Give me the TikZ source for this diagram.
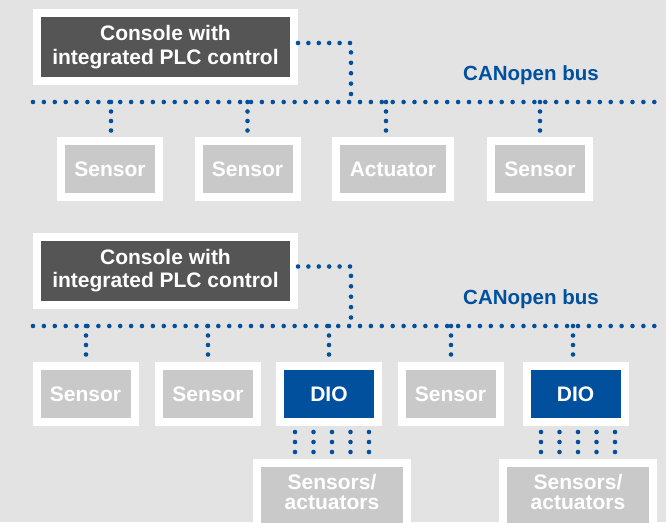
\documentclass[tikz,border=0pt]{standalone}
\usepackage{fontspec}
\setmainfont{Liberation Sans}
\definecolor{canblue}{HTML}{00509E}
\definecolor{bggray}{HTML}{E3E3E3}
\definecolor{plcgray}{HTML}{555555}
\definecolor{devgray}{HTML}{C8C9C8}
\begin{document}
\begin{tikzpicture}[x=1pt,y=-1pt,
        box/.style={draw=white, line width=8pt, inner sep=0pt, text=white, align=center,
            font=\fontsize{21}{23.5}\selectfont\bfseries},
        plc/.style={box, fill=plcgray, minimum width=257pt, minimum height=68pt},
        dev/.style={box, fill=devgray, minimum width=98pt, minimum height=56pt},
        dio/.style={dev, fill=canblue},
        io/.style={box, fill=devgray, minimum width=150pt, minimum height=80pt,
            font=\fontsize{21}{20}\selectfont\bfseries, text height=35pt, text depth=23pt},
        bus/.style={canblue, line width=4.6pt, line cap=round, dash pattern=on 0pt off 10.9pt},
        tap/.style={bus, dash pattern=on 0pt off 10.4pt},
        drop/.style={bus, dash pattern=on 0pt off 9.5pt},
        wires/.style={bus, dash pattern=on 0pt off 10pt},
        buslabel/.style={canblue, anchor=base, font=\fontsize{20.5}{24}\selectfont\bfseries}]
        \fill[bggray] (0,0) rectangle (666,522);
        \useasboundingbox (0,0) rectangle (666,522);

        % Console with sensors and actuator on the bus
        \node[plc] (plc1) at (165.5,47) {Console with\\integrated PLC control};
        \coordinate (bus1w) at (33,102);
        \coordinate (bus1e) at (655,102);
        \coordinate (tap1) at (351,102);
        \draw[bus] (bus1w) -- (bus1e);
        \draw[tap] ([yshift=4pt]plc1.east) -| (tap1);
        \node[buslabel] (lbl1) at (531,80.7) {CANopen bus};

        \node[dev] (sen11) at (110,169) {Sensor};
        \node[dev] (sen12) at (247.5,169) {Sensor};
        \node[dev, minimum width=114pt] (act1) at (393,169) {Actuator};
        \node[dev] (sen13) at (540,169) {Sensor};
        \foreach \n/\dx in {sen11/1, sen12/0, act1/-7, sen13/0} {
            \draw[drop] ([xshift=\dx pt]\n.north |- bus1w) -- ([xshift=\dx pt]\n.north);
        }

        % Console with DIO modules
        \node[plc] (plc2) at (165.5,270.5) {Console with\\integrated PLC control};
        \coordinate (bus2w) at (33,326);
        \coordinate (bus2e) at (655,326);
        \coordinate (tap2) at (351,326);
        \draw[bus] (bus2w) -- (bus2e);
        \draw[tap] ([yshift=4pt]plc2.east) -| (tap2);
        \node[buslabel] (lbl2) at (531,304.5) {CANopen bus};

        \node[dev] (sen21) at (85.5,394) {Sensor};
        \node[dev] (sen22) at (208,394) {Sensor};
        \node[dio] (dio1) at (329,394) {DIO};
        \node[dev] (sen23) at (450.5,394) {Sensor};
        \node[dio] (dio2) at (575.5,394) {DIO};
        \foreach \n/\dx in {sen21/0.5, sen22/0, dio1/0, sen23/0.5, dio2/-2.5} {
            \draw[drop] ([xshift=\dx pt]\n.north |- bus2w) -- ([xshift=\dx pt]\n.north);
        }

        \node[io] (io1) at (332,503) {Sensors/\\actuators};
        \node[io] (io2) at (578,503) {Sensors/\\actuators};
        \foreach \n in {io1, io2} {
            \foreach \dx in {-37,-18.5,0,18.5,37} {
                \draw[wires] ([xshift=\dx pt]\n.north) ++(0,-7) -- ++(0,-21);
            }
        }
    \end{tikzpicture}
\end{document}
